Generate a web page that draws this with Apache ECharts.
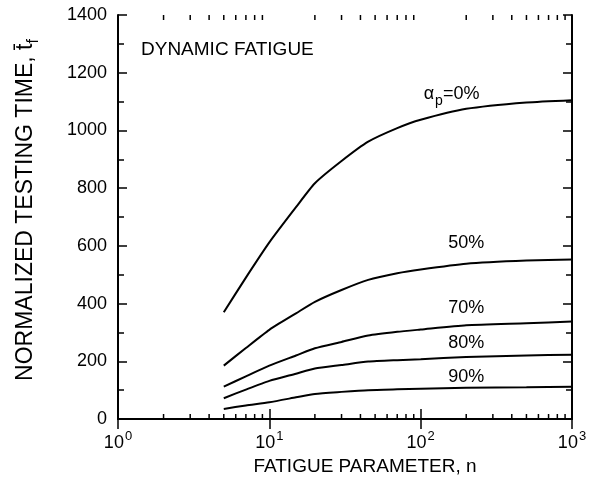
<!DOCTYPE html>
<html>
<head>
<meta charset="utf-8">
<script src="https://cdn.jsdelivr.net/npm/echarts@6/dist/echarts.min.js"></script>
<style>html,body{margin:0;padding:0;background:#fff}#c{width:592px;height:493px}</style>
</head>
<body>
<div id="c"></div>
<script>
// ---- data ----
const nValues = [5, 7, 10, 15, 20, 30, 45, 70, 100, 200, 500, 1000];
const alpha0  = [370, 490, 612, 734, 817, 894, 961, 1008, 1037, 1075, 1097, 1105];
const alpha50 = [185, 246, 309, 366, 406, 447, 482, 505, 518, 538, 549, 553];
const alpha70 = [112, 148, 185, 220, 245, 267, 289, 302, 310, 325, 332, 338];
const alpha80 = [72, 102, 132, 157, 175, 187, 199, 204, 207, 215, 220, 223];
const alpha90 = [35, 47, 58, 75, 87, 94, 100, 103, 105, 108, 110, 112];
const seriesNames = ['0%', '50%', '70%', '80%', '90%'];
const yTicks = [0, 200, 400, 600, 800, 1000, 1200, 1400];
const xDecades = [1, 10, 100, 1000];
const xMinorTicks = [2,3,4,5,6,7,8,9,20,30,40,50,60,70,80,90,200,300,400,500,600,700,800,900];
// label anchors in data coordinates [n, value]
const labelAnchors = [[160, 1125], [200, 610], [200, 385], [200, 263], [200, 146]];

const FONT = '"Liberation Sans", Arial, Helvetica, sans-serif';
const allSeries = [alpha0, alpha50, alpha70, alpha80, alpha90];

function pairs(ys) { return nValues.map((n, i) => [n, ys[i]]); }

const lineSeries = allSeries.map((ys, i) => ({
  type: 'line',
  name: seriesNames[i],
  data: pairs(ys),
  showSymbol: false,
  smooth: 0.2,
  lineStyle: { color: '#000', width: 2 },
  silent: true,
  markPoint: {
    symbol: 'circle', symbolSize: 0, silent: true,
    data: [{
      coord: labelAnchors[i],
      label: {
        show: true, position: 'inside', color: '#000',
        fontFamily: FONT, fontSize: 18,
        formatter: i === 0 ? '{a|\u03b1}{s|p}{a|=0%}' : seriesNames[i],
        rich: {
          a: { fontFamily: FONT, fontSize: 18, color: '#000' },
          s: { fontFamily: FONT, fontSize: 14, color: '#000', padding: [14, 0, 0, 1] }
        }
      }
    }]
  }
}));

const minorTickSeries = {
  type: 'custom',
  silent: true,
  clip: false,
  data: xMinorTicks.map(v => [v]),
  renderItem: function (params, api) {
    const x = api.value(0);
    const b = api.coord([x, 0]);
    const t = api.coord([x, 1400]);
    return {
      type: 'group',
      children: [
        { type: 'line', shape: { x1: b[0], y1: b[1], x2: b[0], y2: b[1] - 5 }, style: { stroke: '#000', lineWidth: 1.5 } },
        { type: 'line', shape: { x1: t[0], y1: t[1], x2: t[0], y2: t[1] + 5 }, style: { stroke: '#000', lineWidth: 1.5 } }
      ]
    };
  }
};

const expMap = { 1: '0', 10: '1', 100: '2', 1000: '3' };

const option = {
  animation: false,
  backgroundColor: '#fff',
  title: {
    text: 'DYNAMIC FATIGUE', left: 136, top: 35,
    textStyle: { fontFamily: FONT, fontSize: 19, fontWeight: 'normal', color: '#000' }
  },
  grid: { left: 118, right: 20, top: 15, bottom: 74 },
  xAxis: [{
    type: 'log', logBase: 10, min: 1, max: 1000,
    position: 'bottom',
    axisLine: { show: true, lineStyle: { color: '#000', width: 2 } },
    axisTick: { show: true, inside: true, length: 10, lineStyle: { color: '#000', width: 1.5 } },
    splitLine: { show: false },
    name: 'FATIGUE PARAMETER, n', nameLocation: 'middle', nameGap: 38,
    nameTextStyle: { fontFamily: FONT, fontSize: 19, color: '#000', padding: [0, 0, 0, 40] },
    axisLabel: {
      margin: 11, color: '#000',
      formatter: function (v) { return '{b|10}{e|' + (expMap[Math.round(v)] || '') + '}'; },
      rich: {
        b: { fontFamily: FONT, fontSize: 18, color: '#000' },
        e: { fontFamily: FONT, fontSize: 13, color: '#000', padding: [0, 0, 14, 1] }
      }
    }
  }, {
    type: 'log', logBase: 10, min: 1, max: 1000,
    position: 'top',
    axisLine: { show: true, lineStyle: { color: '#000', width: 2 } },
    axisTick: { show: true, inside: true, length: 10, lineStyle: { color: '#000', width: 1.5 } },
    axisLabel: { show: false },
    splitLine: { show: false }
  }],
  yAxis: [{
    type: 'value', min: 0, max: 1400, interval: 200,
    position: 'left',
    axisLine: { show: true, lineStyle: { color: '#000', width: 2 } },
    axisTick: { show: true, inside: true, length: 9, lineStyle: { color: '#000', width: 1.5 } },
    minorTick: { show: true, splitNumber: 2, length: 6, lineStyle: { color: '#000', width: 1.5 } },
    splitLine: { show: false },
    minorSplitLine: { show: false },
    axisLabel: { margin: 11, color: '#000', fontFamily: FONT, fontSize: 18,
      formatter: function (v) { return yTicks.indexOf(v) >= 0 ? String(v) : ''; } },
    name: '{a|NORMALIZED TESTING TIME, t\u0304}{f|f}',
    nameLocation: 'middle', nameGap: 76,
    nameTextStyle: {
      fontFamily: FONT, fontSize: 23, color: '#000',
      padding: [0, 0, 0, 14],
      rich: {
        a: { fontFamily: FONT, fontSize: 23, color: '#000' },
        f: { fontFamily: FONT, fontSize: 16, color: '#000', padding: [16, 0, 0, 0] }
      }
    }
  }, {
    type: 'value', min: 0, max: 1400, interval: 200,
    position: 'right',
    axisLine: { show: true, lineStyle: { color: '#000', width: 2 } },
    axisTick: { show: true, inside: true, length: 9, lineStyle: { color: '#000', width: 1.5 } },
    minorTick: { show: true, splitNumber: 2, length: 6, lineStyle: { color: '#000', width: 1.5 } },
    axisLabel: { show: false },
    splitLine: { show: false }
  }],
  series: lineSeries.concat([minorTickSeries])
};

const chart = echarts.init(document.getElementById('c'), null, { renderer: 'canvas' });
chart.setOption(option);
</script>
</body>
</html>
